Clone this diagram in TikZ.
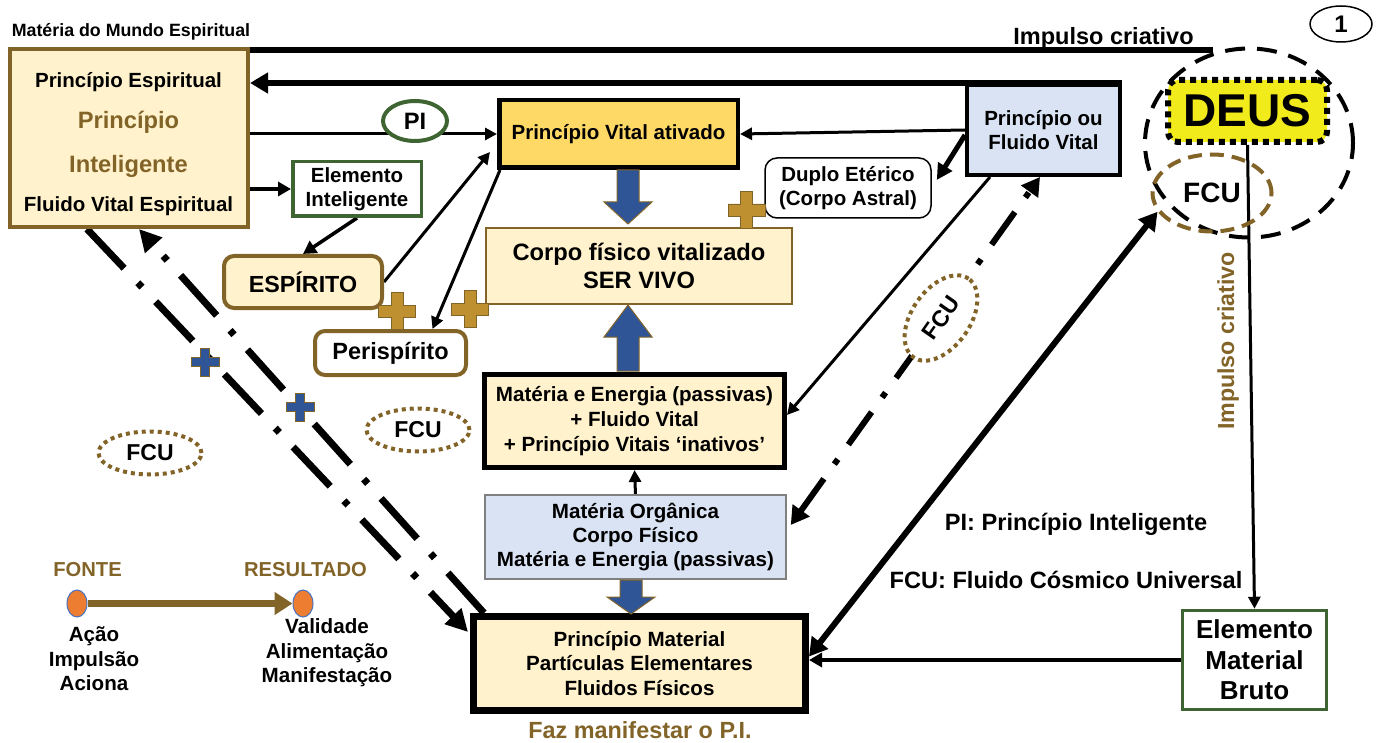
\documentclass[tikz,border=0pt]{standalone}
\usepackage{fontspec}
\setmainfont{Liberation Sans}
\usetikzlibrary{arrows.meta,shapes.geometric,backgrounds}

\definecolor{paleyellow}{HTML}{FFF2CC}
\definecolor{earth}{RGB}{131,100,40}
\definecolor{ochre}{RGB}{191,144,48}
\definecolor{royal}{HTML}{2F5597}
\definecolor{paleblue}{HTML}{DAE3F3}
\definecolor{goldfill}{HTML}{FFD966}
\definecolor{leaf}{RGB}{62,100,50}
\definecolor{sun}{HTML}{F2EB1C}
\definecolor{tangerine}{HTML}{ED7D31}
\definecolor{steel}{HTML}{4472C4}

\newcommand\sz[2]{\fontsize{#1}{#2}\selectfont\bfseries}

\tikzset{
  box/.style={draw, rectangle, inner sep=0pt, align=center},
  txt/.style={inner sep=0pt, align=center},
  fcudot/.style={ellipse, draw=earth, line width=4pt, dash pattern=on 4pt off 4pt,
    fill=white, inner sep=0pt, minimum width=103pt, minimum height=43pt, font=\sz{23}{27}},
  thinarrow/.style={line width=3pt, -{Triangle[length=12pt,width=12pt]}},
  midarrow/.style={line width=3.5pt, -{Triangle[length=13pt,width=14pt]}},
  bigtip/.style={Triangle[length=18pt,width=20pt]},
  dashdotL/.style={line width=7pt, dash pattern=on 54pt off 20pt on 6pt off 20pt},
  dashdotR/.style={line width=6pt, dash pattern=on 40pt off 18pt on 6pt off 18pt},
  blockbody/.style={fill=royal, draw=earth, line width=1pt},
  pics/crossmark/.style 2 args={code={
    \filldraw (-#2,-#1) -- (#2,-#1) -- (#2,-#2) -- (#1,-#2) -- (#1,#2) -- (#2,#2)
      -- (#2,#1) -- (-#2,#1) -- (-#2,#2) -- (-#1,#2) -- (-#1,-#2) -- (-#2,-#2) -- cycle;}},
}

% vertical block arrow: x, tail y, neck y, tip y
\newcommand\blockv[4]{%
  \filldraw[blockbody] ({#1-11},{#2}) -- ({#1+11},{#2}) -- ({#1+11},{#3}) -- ({#1+24},{#3})
    -- ({#1},{#4}) -- ({#1-24},{#3}) -- ({#1-11},{#3}) -- cycle;}

\begin{document}
\begin{tikzpicture}[x=1pt,y=-1pt]
\useasboundingbox (0,0) rectangle (1378,743);

% ---------- spiritual side ----------
\node[txt, anchor=base, font=\sz{17.8}{20}] (mundo) at (131,37) {Matéria do Mundo Espiritual};
\node[box, draw=earth, line width=4pt, fill=paleyellow, minimum width=238pt, minimum height=178pt] (pe) at (129,138) {};
\node[txt, anchor=base, font=\sz{20.5}{24}] (pe1) at (128.5,88) {Princípio Espiritual};
\node[txt, anchor=base, text=earth, font=\sz{23.7}{28}] (pe2) at (128.5,129) {Princípio};
\node[txt, anchor=base, text=earth, font=\sz{23.7}{28}] (pe3) at (128.5,173) {Inteligente};
\node[txt, anchor=base, font=\sz{20.5}{24}] (pe4) at (128.5,212) {Fluido Vital Espiritual};

\node[box, line width=4.5pt, fill=goldfill, minimum width=238.5pt, minimum height=67.5pt, font=\sz{20.5}{24}] (pva) at (618.5,134) {Princípio Vital ativado};
\node[box, draw=leaf, line width=3.5pt, fill=white, minimum width=128.5pt, minimum height=54.5pt, font=\sz{20.5}{24}] (ei) at (357,189) {Elemento\\Inteligente};
\node[box, rounded corners=10pt, draw=earth, line width=4pt, fill=paleyellow, minimum width=158pt, minimum height=52pt, font=\sz{23.3}{28}] (esp) at (303,282) {ESPÍRITO};
\node[box, rounded corners=10pt, draw=earth, line width=4pt, fill=white, minimum width=151pt, minimum height=44pt, font=\sz{23.5}{28}] (peri) at (390.5,353) {Perispírito};
\node[box, draw=earth, line width=1.5pt, fill=paleyellow, minimum width=306pt, minimum height=76pt, font=\sz{23.7}{28}] (corpo) at (639,266) {Corpo físico vitalizado\\SER VIVO};
\node[box, rounded corners=12pt, line width=1.5pt, fill=white, minimum width=166pt, minimum height=60pt, font=\sz{20.5}{24}] (duplo) at (848,188) {Duplo Etérico\\(Corpo Astral)};
\node[box, line width=4pt, fill=paleblue, minimum width=153pt, minimum height=90pt, font=\sz{20.5}{24}] (pfv) at (1043.5,130) {Princípio ou\\Fluido Vital};

% ---------- DEUS ----------
\node[ellipse, draw, line width=4pt, dash pattern=on 20pt off 12pt, minimum width=208pt, minimum height=189pt, inner sep=0pt] (halo) at (1249,143) {};
\node[box, rounded corners=10pt, line width=6pt, dash pattern=on 6pt off 5pt, fill=sun, minimum width=159pt, minimum height=62pt, font=\sz{46}{50}] (deus) at (1247.5,111) {DEUS};
\node[ellipse, draw=earth, line width=4pt, dash pattern=on 14pt off 8pt, minimum width=119pt, minimum height=77pt, inner sep=0pt, font=\sz{28}{32}] (fcu2) at (1212,193) {FCU};
\node[ellipse, draw, line width=1.5pt, minimum width=62pt, minimum height=36pt, inner sep=0pt, font=\sz{24}{28}] (one) at (1341,24) {1};
\node[txt, anchor=base, font=\sz{23.5}{28}] (imp) at (1103.5,45) {Impulso criativo};
\node[txt, rotate=90, text=earth, font=\sz{23.2}{28}] (impv) at (1228,341) {Impulso criativo};
\node[box, draw=leaf, line width=3.5pt, fill=white, minimum width=144pt, minimum height=99pt, font=\sz{26}{30.5}] (emb) at (1254.5,660) {Elemento\\Material\\Bruto};

% ---------- material side ----------
\node[box, line width=5pt, fill=paleyellow, minimum width=300pt, minimum height=93pt, font=\sz{20.6}{25}] (me) at (634.5,421) {Matéria e Energia (passivas)\\+ Fluido Vital\\+ Princípio Vitais ‘inativos’};
\node[box, draw=gray, line width=1.5pt, fill=paleblue, minimum width=301pt, minimum height=84pt, font=\sz{20.6}{24}] (mo) at (635.5,537) {Matéria Orgânica\\Corpo Físico\\Matéria e Energia (passivas)};
\node[box, line width=7pt, fill=paleyellow, minimum width=332pt, minimum height=94pt, font=\sz{20.6}{24.5}] (pm) at (639.5,663.5) {Princípio Material\\Partículas Elementares\\Fluidos Físicos};
\node[txt, text=earth, font=\sz{23.4}{28}] (faz) at (640,730) {Faz manifestar o P.I.};

\node[txt, font=\sz{23.6}{28}] (defpi) at (1076,524) {PI: Princípio Inteligente};
\node[txt, font=\sz{23.6}{28}] (deffcu) at (1066,580) {FCU: Fluido Cósmico Universal};

% ---------- connectors ----------
\begin{scope}[on background layer]
\coordinate (impend) at (1213,50);
\draw[line width=6pt] (pe.east |- impend) -- (impend);
\draw[line width=6pt, -{Triangle[length=18pt,width=20pt]}] (pfv.north east) -- (pe.east |- pfv.north east);
\draw[thinarrow] (pe.east |- pva.west) -- (pva.west);
\draw[midarrow] (pe.east |- ei.west) -- (ei.west);
\draw[midarrow] (ei.south) -- (esp.north);
\draw[thinarrow] (esp.east) -- ([xshift=-7pt,yshift=18pt]pva.south west);
\draw[thinarrow] ([xshift=3pt]pva.south west) -- ([xshift=42pt]peri.north);
\draw[thinarrow] (pfv.west) -- (pva.east);
\draw[line width=5pt, -{Triangle[length=16pt,width=16pt]}] ([yshift=-5pt]pfv.west) -- ([xshift=5pt,yshift=8pt]duplo.east);
\draw[thinarrow] ([xshift=25pt]pfv.south west) -- ([yshift=6pt]me.east);
\draw[dashdotR, {Triangle[length=18pt,width=20pt]}-{Triangle[length=18pt,width=20pt]}] ([xshift=4pt,yshift=12pt]mo.east) -- ([xshift=75pt]pfv.south west);
\draw[dashdotL, -{Triangle[length=22pt,width=22pt]}] ([xshift=79pt]pe.south west) -- ([xshift=-2pt,yshift=-19pt]pm.north west);
\draw[dashdotL, -{Triangle[length=22pt,width=22pt]}] ([xshift=14pt]pm.north west) -- ([xshift=131pt]pe.south west);
\draw[line width=6pt, {Triangle[length=18pt,width=20pt]}-{Triangle[length=18pt,width=20pt]}] ([yshift=7pt]pm.east) -- (fcu2.199);
\draw[midarrow] (emb.west) -- (pm.east |- emb.west);
\draw[thinarrow] (deus.south) -- (emb.north);
\draw[thinarrow] (mo.north) -- (me.south);
\end{scope}

% PI tag and FCU clouds sit on top of the lines
\node[ellipse, draw=leaf, line width=4pt, fill=white, minimum width=64pt, minimum height=40pt, inner sep=0pt, font=\sz{23.7}{28}] (pi) at (415,121) {PI};
\node[fcudot] (fcua) at (150,453) {FCU};
\node[fcudot] (fcub) at (418,430) {FCU};
\node[fcudot, rotate=55, minimum width=96pt, minimum height=58pt] (fcuc) at (941,318) {FCU};

% block arrows between the central boxes
\blockv{628}{170}{202}{224}
\blockv{628}{371}{337}{305}
\blockv{631}{580}{597}{614}

% plus marks
\pic[fill=ochre, draw=earth, line width=0.8pt] at (397,311) {crossmark={18.5}{6}};
\pic[fill=ochre, draw=earth, line width=0.8pt] at (470,309) {crossmark={18.5}{6}};
\pic[fill=ochre, draw=earth, line width=0.8pt] at (746.5,210) {crossmark={18.5}{6}};
\pic[fill=royal, draw=earth, line width=0.8pt] at (205,362) {crossmark={14}{4.5}};
\pic[fill=royal, draw=earth, line width=0.8pt] at (300,407) {crossmark={14}{4.5}};

% ---------- legend ----------
\node[txt, text=earth, font=\sz{20.2}{24}] (fonte) at (87.5,570) {FONTE};
\node[txt, text=earth, font=\sz{20.2}{24}] (result) at (305.5,570) {RESULTADO};
\node[ellipse, fill=tangerine, draw=steel, line width=1pt, minimum width=20pt, minimum height=27pt, inner sep=0pt] (src) at (77,603.5) {};
\node[ellipse, fill=tangerine, draw=steel, line width=1pt, minimum width=20pt, minimum height=27pt, inner sep=0pt] (dst) at (303,603.5) {};
\draw[line width=7pt, earth, -{Triangle[length=18pt,width=22pt]}] (src) -- (dst);
\node[txt, font=\sz{20.6}{24.5}] (acao) at (94,659) {Ação\\Impulsão\\Aciona};
\node[txt, font=\sz{20.6}{24.5}] (valid) at (327,653) {Validade\\Alimentação\\Manifestação};
\end{tikzpicture}
\end{document}
